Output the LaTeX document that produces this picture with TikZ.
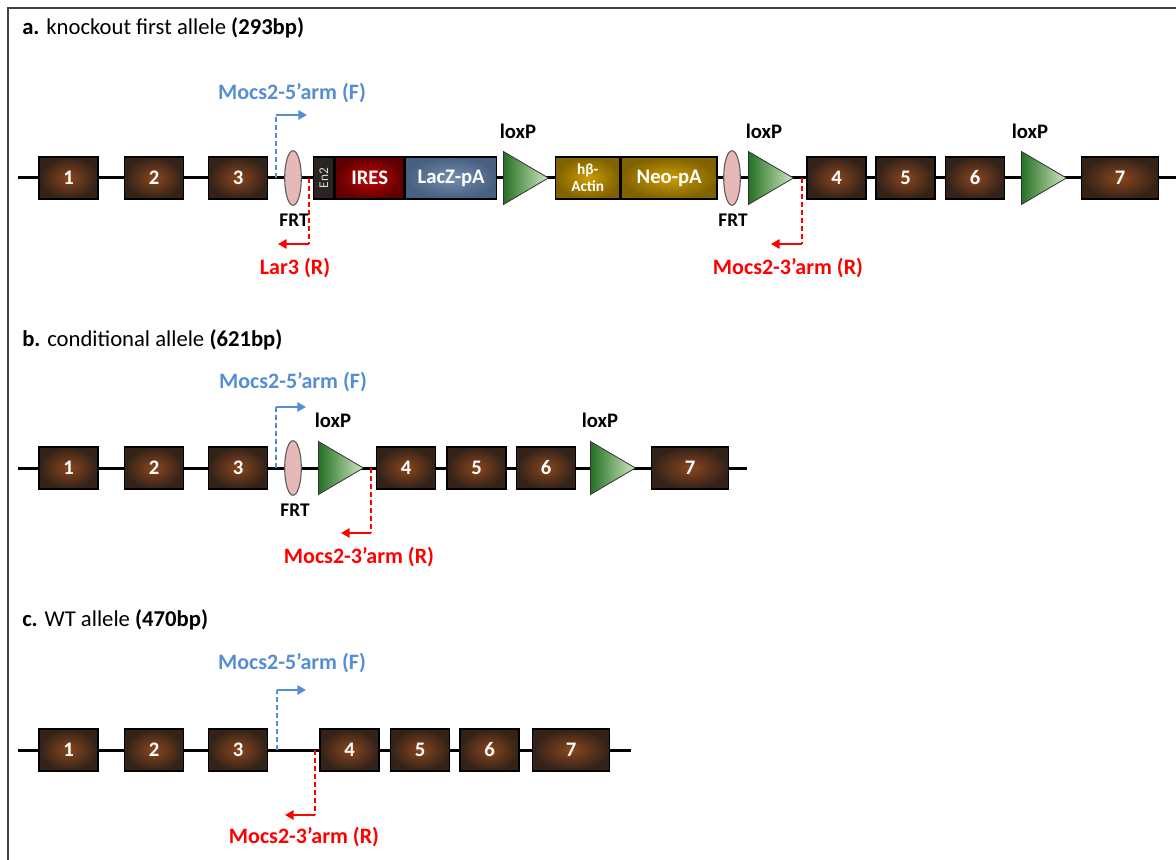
\documentclass[tikz,border=0pt]{standalone}
\usepackage{fontspec}
\setmainfont{Carlito}
\usepackage{xcolor}
\usepackage{tikz}
\usetikzlibrary{arrows.meta,positioning,shapes.geometric,calc}
\definecolor{exonin}{RGB}{138,70,30}
\definecolor{exonout}{RGB}{50,34,24}
\definecolor{iresin}{RGB}{196,8,8}
\definecolor{iresout}{RGB}{96,0,0}
\definecolor{laczin}{RGB}{118,142,172}
\definecolor{laczout}{RGB}{72,96,128}
\definecolor{neoin}{RGB}{206,156,0}
\definecolor{neoout}{RGB}{128,98,0}
\definecolor{entwo}{RGB}{44,36,32}
\definecolor{loxdark}{RGB}{36,112,36}
\definecolor{loxlight}{RGB}{208,232,192}
\definecolor{frtpink}{RGB}{230,184,183}
\definecolor{primerblue}{RGB}{85,142,213}
\definecolor{primerred}{RGB}{255,0,0}
\tikzset{
  exon/.style={
    rectangle,
    draw=black,
    line width=1.1pt,
    minimum width=44pt,
    minimum height=31.5pt,
    inner sep=0pt,
    inner color=exonin,
    outer color=exonout,
    text=white,
    font=\fontsize{15.5}{18}\selectfont\bfseries
  },
  cassette/.style={
    rectangle,
    draw=black,
    line width=1.1pt,
    minimum height=31.5pt,
    inner sep=0pt,
    align=center,
    text=white,
    font=\fontsize{15.5}{18}\selectfont\bfseries
  },
  loxp/.style={
    isosceles triangle,
    isosceles triangle stretches,
    draw=black!80,
    line width=0.6pt,
    minimum width=39.75pt,
    minimum height=33.75pt,
    inner sep=0pt,
    left color=loxdark,
    right color=loxlight
  },
  frt/.style={
    ellipse,
    draw=black!65,
    line width=0.8pt,
    fill=frtpink,
    minimum width=12.5pt,
    minimum height=41pt,
    inner sep=0pt
  },
  title/.style={
    anchor=west,
    inner sep=0pt,
    font=\fontsize{17}{20}\selectfont
  },
  sitelabel/.style={
    inner sep=0pt,
    font=\fontsize{15.5}{18}\selectfont\bfseries
  },
  primerlabel/.style={
    inner sep=0pt,
    font=\fontsize{16.5}{20}\selectfont\bfseries
  },
  backbone/.style={line width=2.25pt, black},
  fwd/.style={line width=1.6pt, primerblue},
  rev/.style={line width=1.6pt, primerred},
  half/.style={dash pattern=on 4pt off 2pt},
  tip/.style={-{Triangle[length=6.5pt,width=7pt]}}
}

\begin{document}
\begin{tikzpicture}[x=0.75pt,y=-0.75pt]
\useasboundingbox (0,0) rectangle (1176,859);
\draw[black!75, line width=1pt] (8,880) |- (1200,8);

% a. knockout first allele
\node[title] (titleA) at (22,28) {\textbf{a.} knockout first allele \textbf{(293bp)}};
\coordinate (aL) at (18,178);
\coordinate (aR) at (1180,178);
\draw[backbone] (aL) -- (aR);
\node[exon] (a1) at (68.5,178) {1};
\node[exon] (a2) at (154,178) {2};
\node[exon] (a3) at (238,178) {3};
\node[frt] (aFRT1) at (293,178) {};
\node[cassette, fill=entwo, minimum width=15pt, anchor=west] (en2) at (313,178) {\rotatebox{90}{\fontsize{10}{12}\selectfont\mdseries\color{black!15}En2}};
\node[cassette, inner color=iresin, outer color=iresout, minimum width=51.75pt, right=0pt of en2] (ires) {IRES};
\node[cassette, inner color=laczin, outer color=laczout, minimum width=68.25pt, right=0pt of ires] (lacz) {LacZ-pA};
\node[loxp, anchor=west] (aLox1) at (503,178) {};
\node[cassette, inner color=neoin, outer color=neoout, minimum width=48pt, anchor=west, font=\fontsize{11.5}{12.5}\selectfont\bfseries] (actin) at (555,178) {hβ-\\Actin};
\node[cassette, inner color=neoin, outer color=neoout, minimum width=72pt, right=0pt of actin] (neo) {Neo-pA};
\node[frt] (aFRT2) at (732,178) {};
\node[loxp, anchor=west] (aLox2) at (748,178) {};
\node[exon] (a4) at (836.5,178) {4};
\node[exon] (a5) at (905.5,178) {5};
\node[exon] (a6) at (975,178) {6};
\node[loxp, anchor=west] (aLox3) at (1021,178) {};
\node[exon, minimum width=57.75pt] (a7) at (1120,178) {7};
\node[sitelabel] (aLox1t) at (518,131) {loxP};
\node[sitelabel] (aLox2t) at (764,131) {loxP};
\node[sitelabel] (aLox3t) at (1030,131) {loxP};
\node[sitelabel, font=\fontsize{14.5}{17}\selectfont\bfseries] (aFRT1t) at (294,220) {FRT};
\node[sitelabel, font=\fontsize{14.5}{17}\selectfont\bfseries] (aFRT2t) at (733,220) {FRT};
\coordinate (aF0) at (276,178);
\coordinate (aF1) at (276,115);
\coordinate (aF2) at (307,115);
\draw[fwd, half] (aF0) -- (aF1);
\draw[fwd, tip] (aF1) -- (aF2);
\node[primerlabel, text=primerblue] (aFt) at (292,93) {Mocs2-5’arm (F)};
\coordinate (aLar0) at (309,178);
\coordinate (aLar1) at (309,244);
\coordinate (aLar2) at (278,244);
\draw[rev, half] (aLar0) -- (aLar1);
\draw[rev, tip] (aLar1) -- (aLar2);
\node[primerlabel, text=primerred] (aLart) at (295,268) {Lar3 (R)};
\coordinate (aR0) at (802,178);
\coordinate (aR1) at (802,244);
\coordinate (aR2) at (771,244);
\draw[rev, half] (aR0) -- (aR1);
\draw[rev, tip] (aR1) -- (aR2);
\node[primerlabel, text=primerred] (aRt) at (788,268) {Mocs2-3’arm (R)};

% b. conditional allele
\node[title] (titleB) at (22,340) {\textbf{b.} conditional allele \textbf{(621bp)}};
\coordinate (bL) at (18,468);
\coordinate (bR) at (747,468);
\draw[backbone] (bL) -- (bR);
\node[exon] (b1) at (68.5,468) {1};
\node[exon] (b2) at (154,468) {2};
\node[exon] (b3) at (238,468) {3};
\node[frt] (bFRT) at (293,468) {};
\node[loxp, anchor=west] (bLox1) at (318,468) {};
\node[exon] (b4) at (406,468) {4};
\node[exon] (b5) at (476.5,468) {5};
\node[exon] (b6) at (546,468) {6};
\node[loxp, anchor=west] (bLox2) at (590,468) {};
\node[exon, minimum width=57.75pt] (b7) at (690,468) {7};
\node[sitelabel] (bLox1t) at (333,420) {loxP};
\node[sitelabel] (bLox2t) at (600,420) {loxP};
\node[sitelabel, font=\fontsize{14.5}{17}\selectfont\bfseries] (bFRTt) at (295,510) {FRT};
\coordinate (bF0) at (276,468);
\coordinate (bF1) at (276,407);
\coordinate (bF2) at (306,407);
\draw[fwd, half] (bF0) -- (bF1);
\draw[fwd, tip] (bF1) -- (bF2);
\node[primerlabel, text=primerblue] (bFt) at (293,382) {Mocs2-5’arm (F)};
\coordinate (bR0) at (371,468);
\coordinate (bR1) at (371,533);
\coordinate (bR2) at (341,533);
\draw[rev, half] (bR0) -- (bR1);
\draw[rev, tip] (bR1) -- (bR2);
\node[primerlabel, text=primerred] (bRt) at (359,557) {Mocs2-3’arm (R)};

% c. WT allele
\node[title] (titleC) at (22,620) {\textbf{c.} WT allele \textbf{(470bp)}};
\coordinate (cL) at (18,750);
\coordinate (cR) at (631,750);
\draw[backbone] (cL) -- (cR);
\node[exon] (c1) at (68.5,750) {1};
\node[exon] (c2) at (154,750) {2};
\node[exon] (c3) at (238,750) {3};
\node[exon] (c4) at (349.5,750) {4};
\node[exon] (c5) at (420,750) {5};
\node[exon] (c6) at (489.5,750) {6};
\node[exon, minimum width=57.75pt] (c7) at (571,750) {7};
\coordinate (cF0) at (277,750);
\coordinate (cF1) at (277,690);
\coordinate (cF2) at (306,690);
\draw[fwd, half] (cF0) -- (cF1);
\draw[fwd, tip] (cF1) -- (cF2);
\node[primerlabel, text=primerblue] (cFt) at (292,663) {Mocs2-5’arm (F)};
\coordinate (cR0) at (315,750);
\coordinate (cR1) at (315,815);
\coordinate (cR2) at (285,815);
\draw[rev, half] (cR0) -- (cR1);
\draw[rev, tip] (cR1) -- (cR2);
\node[primerlabel, text=primerred] (cRt) at (304,837) {Mocs2-3’arm (R)};
\end{tikzpicture}
\end{document}
